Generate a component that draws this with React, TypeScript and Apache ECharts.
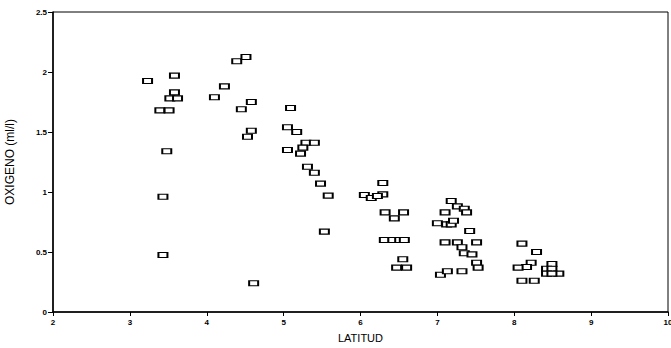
import React, { useEffect, useRef } from "react";
import * as echarts from "echarts";

const latitud = [
  3.23, 3.58, 3.58, 3.52, 3.62, 3.39, 3.51, 3.48, 3.43, 3.43,
  4.10, 4.39, 4.51, 4.23, 4.58, 4.45, 5.09, 4.58, 4.53, 5.05,
  5.17, 5.29, 5.40, 5.05, 5.25, 5.22, 5.31, 5.40, 5.48, 5.58,
  5.53, 4.61, 6.05, 6.29, 6.29, 6.14, 6.22, 6.32, 6.44, 6.56,
  6.31, 6.42, 6.51, 6.57, 6.55, 6.47, 6.60, 7.18, 7.26, 7.35,
  7.38, 7.10, 7.00, 7.12, 7.18, 7.21, 7.42, 7.10, 7.26, 7.51,
  7.32, 7.35, 7.45, 7.51, 7.53, 7.04, 7.13, 7.32, 8.10, 8.29,
  8.22, 8.16, 8.05, 8.10, 8.26, 8.49, 8.42, 8.49, 8.58, 8.42,
  8.49,
];
const oxigeno = [
  1.925, 1.97, 1.83, 1.78, 1.78, 1.68, 1.68, 1.34, 0.96, 0.475,
  1.79, 2.09, 2.125, 1.88, 1.75, 1.69, 1.70, 1.51, 1.46, 1.54,
  1.50, 1.41, 1.41, 1.35, 1.37, 1.32, 1.21, 1.16, 1.07, 0.97,
  0.67, 0.24, 0.975, 1.075, 0.98, 0.95, 0.967, 0.83, 0.78, 0.83,
  0.60, 0.60, 0.60, 0.60, 0.44, 0.37, 0.37, 0.925, 0.88, 0.86,
  0.83, 0.83, 0.74, 0.73, 0.73, 0.76, 0.675, 0.58, 0.58, 0.58,
  0.54, 0.49, 0.48, 0.41, 0.37, 0.31, 0.34, 0.34, 0.57, 0.50,
  0.41, 0.375, 0.37, 0.26, 0.26, 0.40, 0.36, 0.36, 0.32, 0.32,
  0.32,
];
const xName = "LATITUD";
const yName = "OXIGENO (ml/l)";

export default function App() {
  const ref = useRef<HTMLDivElement>(null);
  useEffect(() => {
    if (!ref.current) return;
    const chart = echarts.init(ref.current, undefined, { renderer: "svg" });
    const data = latitud.map((x, i) => [x, oxigeno[i]]);
    const tickLabel = {
      color: "#000",
      fontSize: 8,
      fontWeight: "bold" as const,
      fontFamily: "Liberation Sans, Arial, sans-serif",
    };
    chart.setOption({
      animation: false,
      backgroundColor: "#fff",
      grid: {
        left: 53,
        right: 3,
        top: 12,
        bottom: 36,
        containLabel: false,
        outerBoundsMode: "none",
        show: true,
        borderColor: "#000",
        borderWidth: 1,
      },
      xAxis: {
        type: "value",
        min: 2,
        max: 10,
        interval: 1,
        name: xName,
        nameLocation: "middle",
        nameGap: 20,
        nameTextStyle: {
          color: "#000",
          fontSize: 11,
          fontFamily: "Liberation Sans, Arial, sans-serif",
        },
        axisLine: { show: true, lineStyle: { color: "#000", width: 1.5 } },
        axisTick: { show: true, length: 4, lineStyle: { color: "#000" } },
        axisLabel: { ...tickLabel, margin: 6 },
        splitLine: { show: false },
      },
      yAxis: {
        type: "value",
        min: 0,
        max: 2.5,
        interval: 0.5,
        name: yName,
        nameLocation: "middle",
        nameGap: 37,
        nameRotate: 90,
        nameTextStyle: {
          color: "#000",
          fontSize: 12,
          fontFamily: "Liberation Sans, Arial, sans-serif",
        },
        axisLine: { show: true, lineStyle: { color: "#000", width: 1.5 } },
        axisTick: { show: true, length: 5, lineStyle: { color: "#000" } },
        axisLabel: { ...tickLabel, margin: 6 },
        splitLine: { show: false },
      },
      series: [
        {
          type: "scatter",
          data,
          symbol: "rect",
          symbolSize: [9, 5],
          itemStyle: {
            color: "#fff",
            borderColor: "#000",
            borderWidth: 1.5,
            opacity: 1,
          },
        },
      ],
    });
    return () => chart.dispose();
  }, []);
  return <div ref={ref} style={{ width: 671, height: 348, position: "absolute", left: 0, top: 0 }} />;
}
